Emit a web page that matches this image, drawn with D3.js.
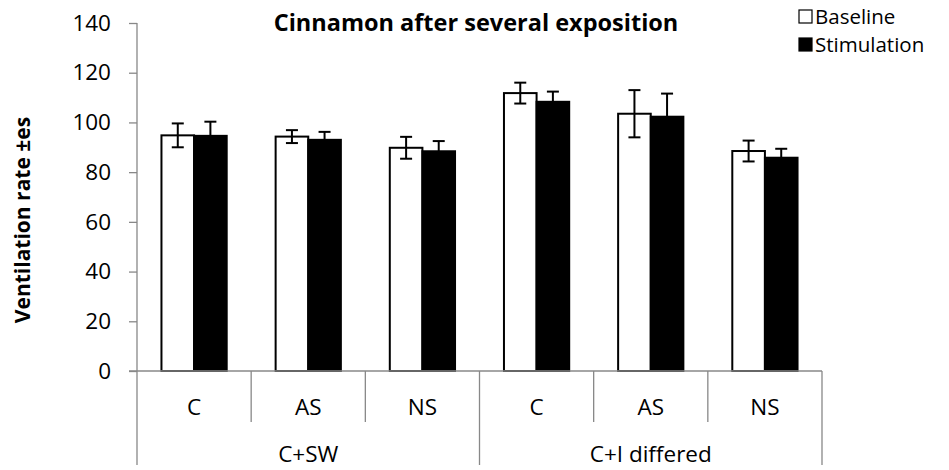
<!DOCTYPE html>
<html>
<head>
<meta charset="utf-8">
<script src="https://cdn.jsdelivr.net/npm/d3@7"></script>
<style>
  html, body { margin: 0; padding: 0; background: #fff; }
  svg { display: block; font-family: "Open Sans", Lato, sans-serif; }
</style>
</head>
<body>
<svg id="chart" width="949" height="470"></svg>
<script>
// Ventilation rate data (mean ± es)
const groups = ["C+SW", "C+I differed"];
const categories = ["C", "AS", "NS", "C", "AS", "NS"];
const categoryGroup = [0, 0, 0, 1, 1, 1];
const seriesNames = ["Baseline", "Stimulation"];
const baseline = [94.8, 94.3, 89.8, 111.8, 103.5, 88.5];
const baselineErr = [4.8, 2.6, 4.4, 4.2, 9.5, 4.2];
const stimulation = [94.6, 93.0, 88.4, 108.3, 102.3, 85.8];
const stimulationErr = [5.7, 3.2, 4.1, 4.1, 9.3, 3.6];
const yTicks = [0, 20, 40, 60, 80, 100, 120, 140];

(function draw() {
  const seriesValues = [baseline, stimulation];
  const seriesErrors = [baselineErr, stimulationErr];
  const seriesFill = ["#ffffff", "#000000"];
  const fontFamily = "'Open Sans', Lato, sans-serif";
  const fs = 22.5;

  const svg = d3.select("#chart");
  const plotLeft = 137, plotRight = 822, plotTop = 23, plotBottom = 371;
  const axisGrey = "#888888";

  const x = d3.scaleBand().domain(d3.range(categories.length)).range([plotLeft, plotRight]).paddingInner(0).paddingOuter(0);
  const xs = d3.scaleBand().domain([0, 1]).range([0, x.bandwidth()]).paddingInner(0).paddingOuter(0.75);
  const y = d3.scaleLinear().domain([0, 140]).range([plotBottom, plotTop]);

  // Y axis
  const yAxis = svg.append("g").attr("transform", `translate(${plotLeft},0)`)
    .call(d3.axisLeft(y).tickValues(yTicks).tickSize(8).tickPadding(18));
  yAxis.select(".domain").remove();
  yAxis.selectAll(".tick line").attr("stroke", axisGrey).attr("stroke-width", 1.3);
  yAxis.selectAll(".tick text").attr("font-size", fs).attr("fill", "#000")
    .attr("font-family", fontFamily);
  svg.append("line").attr("x1", plotLeft).attr("x2", plotLeft).attr("y1", plotTop).attr("y2", 465)
    .attr("stroke", axisGrey).attr("stroke-width", 1.3);

  // Y axis title
  svg.append("text")
    .attr("transform", `translate(30,220) rotate(-90)`)
    .attr("text-anchor", "middle").attr("font-size", 21).attr("font-weight", "bold")
    .text("Ventilation rate ±es");

  // Bars
  seriesValues.forEach((vals, s) => {
    svg.append("g").selectAll("rect").data(vals).join("rect")
      .attr("x", (d, i) => x(i) + xs(s))
      .attr("y", d => y(d))
      .attr("width", xs.bandwidth())
      .attr("height", d => y(0) - y(d))
      .attr("fill", seriesFill[s])
      .attr("stroke", "#000").attr("stroke-width", 2);
  });

  // Error bars
  seriesValues.forEach((vals, s) => {
    const errs = seriesErrors[s];
    const g = svg.append("g").attr("stroke", "#000").attr("stroke-width", 2);
    vals.forEach((v, i) => {
      const cx = x(i) + xs(s) + xs.bandwidth() / 2;
      const hi = y(v + errs[i]), lo = y(v - errs[i]);
      g.append("line").attr("x1", cx).attr("x2", cx).attr("y1", hi).attr("y2", lo);
      g.append("line").attr("x1", cx - 6).attr("x2", cx + 6).attr("y1", hi).attr("y2", hi);
      g.append("line").attr("x1", cx - 6).attr("x2", cx + 6).attr("y1", lo).attr("y2", lo);
    });
  });

  // X axis baseline and category dividers
  svg.append("line").attr("x1", plotLeft - 8).attr("x2", plotRight).attr("y1", plotBottom).attr("y2", plotBottom)
    .attr("stroke", axisGrey).attr("stroke-width", 1.3);
  categories.forEach((c, i) => {
    const xr = x(i) + x.bandwidth();
    const groupEnd = i === categories.length - 1 || categoryGroup[i + 1] !== categoryGroup[i];
    svg.append("line").attr("x1", xr).attr("x2", xr).attr("y1", plotBottom).attr("y2", groupEnd ? 465 : 422)
      .attr("stroke", axisGrey).attr("stroke-width", 1.3);
    svg.append("text").attr("x", x(i) + x.bandwidth() / 2).attr("y", 415)
      .attr("text-anchor", "middle").attr("font-size", fs).text(c);
  });
  groups.forEach((gname, gi) => {
    const idx = d3.range(categories.length).filter(i => categoryGroup[i] === gi);
    const x0 = x(idx[0]), x1 = x(idx[idx.length - 1]) + x.bandwidth();
    svg.append("text").attr("x", (x0 + x1) / 2).attr("y", 462)
      .attr("text-anchor", "middle").attr("font-size", fs).text(gname);
  });

  // Title
  svg.append("text").attr("x", 476).attr("y", 31).attr("text-anchor", "middle")
    .attr("font-size", 23.5).attr("font-weight", "bold").text("Cinnamon after several exposition");

  // Legend
  seriesNames.forEach((name, s) => {
    const ly = 10 + s * 28;
    svg.append("rect").attr("x", 799).attr("y", ly).attr("width", 13).attr("height", 13)
      .attr("fill", seriesFill[s]).attr("stroke", "#000").attr("stroke-width", 1.2);
    svg.append("text").attr("x", 815).attr("y", ly + 13.5).attr("font-size", 20.5).text(name);
  });
})();
</script>
</body>
</html>
